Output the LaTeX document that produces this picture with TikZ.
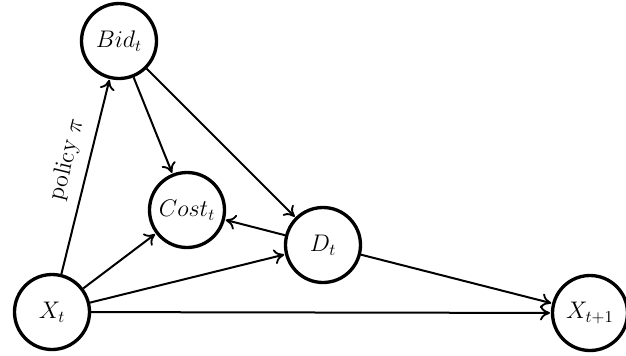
\documentclass[tikz,border=0pt]{standalone}
\usetikzlibrary{arrows.meta}
\begin{document}
\begin{tikzpicture}[x=0.6pt,y=-0.6pt,
  state/.style={circle,draw,line width=2pt,minimum size=75*0.6pt,inner sep=0pt,font=\Large},
  edge/.style={-{To[length=6pt,width=9pt,line width=1.1pt]},line width=1.2pt,shorten >=0.5pt}]
\useasboundingbox (0,0) rectangle (626,355);
\node[state] (bid) at (119,41) {$Bid_t$};
\node[state] (cost) at (187,210) {$Cost_t$};
\node[state] (d) at (323,245) {$D_t$};
\node[state] (x) at (52,312) {$X_t$};
\node[state] (xn) at (590,313) {$X_{t+1}$};
\draw[edge] (x) -- node[pos=0.56,sloped,above,font=\Large,inner sep=6pt] {policy $\pi$} (bid);
\draw[edge] (bid) -- (cost);
\draw[edge] (bid) -- (d);
\draw[edge] (x) -- (cost);
\draw[edge] (x) -- (d);
\draw[edge] (d) -- (cost);
\draw[edge] (d) -- (xn);
\draw[edge] (x) -- (xn);
\end{tikzpicture}
\end{document}
